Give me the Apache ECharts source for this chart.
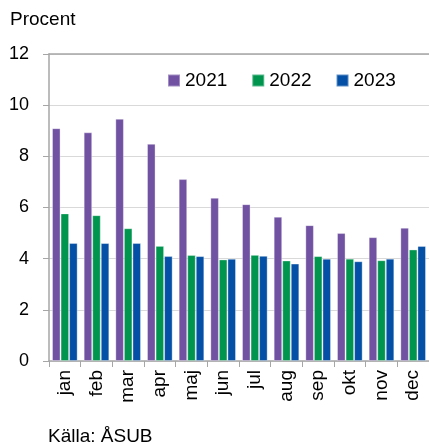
<!DOCTYPE html>
<html>
<head>
<meta charset="utf-8">
<script src="https://cdn.jsdelivr.net/npm/echarts@6/dist/echarts.min.js"></script>
<style>
  html, body { margin: 0; padding: 0; background: #fff; }
  #chart { width: 429px; height: 443px; }
</style>
</head>
<body>
<div id="chart"></div>
<script>
const months = ["jan", "feb", "mar", "apr", "maj", "jun", "jul", "aug", "sep", "okt", "nov", "dec"];
const v2021 = [9.1, 8.94, 9.47, 8.49, 7.11, 6.38, 6.13, 5.64, 5.31, 5.0, 4.84, 5.21];
const v2022 = [5.77, 5.7, 5.19, 4.5, 4.14, 3.97, 4.15, 3.93, 4.1, 4.0, 3.94, 4.36];
const v2023 = [4.61, 4.61, 4.61, 4.1, 4.1, 4.0, 4.11, 3.81, 4.0, 3.9, 4.0, 4.5];
const yearNames = ["2021", "2022", "2023"];
const colors = ["#7051A2", "#00954F", "#0450A6"];

const font = "Liberation Sans";
const chart = echarts.init(document.getElementById("chart"));

chart.setOption({
  animation: false,
  textStyle: { fontFamily: font },
  grid: { left: 49, top: 54, bottom: 82, right: -4, containLabel: false },
  legend: {
    left: 162,
    top: 66,
    itemWidth: 12,
    itemHeight: 12,
    itemGap: 24,
    icon: "rect",
    textStyle: { fontSize: 19, color: "#000", fontFamily: font },
    data: yearNames
  },
  graphic: [
    { type: "text", left: 10, top: 10, style: { text: "Procent", fontSize: 19, fill: "#000", fontFamily: font } },
    { type: "text", left: 48, top: 427, style: { text: "Källa: ÅSUB", fontSize: 19, fill: "#000", fontFamily: font } }
  ],
  xAxis: [
    {
      type: "category",
      data: months,
      axisLine: { lineStyle: { color: "#A6A6A6", width: 1.5 } },
      axisTick: { show: true, alignWithLabel: false, length: 6, lineStyle: { color: "#A6A6A6" } },
      axisLabel: { rotate: 90, fontSize: 19, color: "#000", margin: 9, fontFamily: font }
    },
    {
      type: "category",
      position: "top",
      data: months,
      axisLine: { lineStyle: { color: "#A6A6A6", width: 1.5 } },
      axisTick: { show: false },
      axisLabel: { show: false }
    }
  ],
  yAxis: {
    type: "value",
    min: 0,
    max: 12,
    interval: 2,
    axisLine: { show: true, lineStyle: { color: "#A6A6A6", width: 1.5 } },
    axisTick: { show: true, length: 6, lineStyle: { color: "#A6A6A6" } },
    axisLabel: { fontSize: 18, color: "#000", margin: 20, fontFamily: font },
    splitLine: { lineStyle: { color: "#D9D9D9", width: 1 } }
  },
  series: [v2021, v2022, v2023].map((vals, i) => ({
    type: "bar",
    name: yearNames[i],
    data: vals,
    barGap: "0%",
    barCategoryGap: "19%",
    itemStyle: { color: colors[i], borderColor: "rgba(255,255,255,0.35)", borderWidth: 1 }
  }))
});
</script>
</body>
</html>
